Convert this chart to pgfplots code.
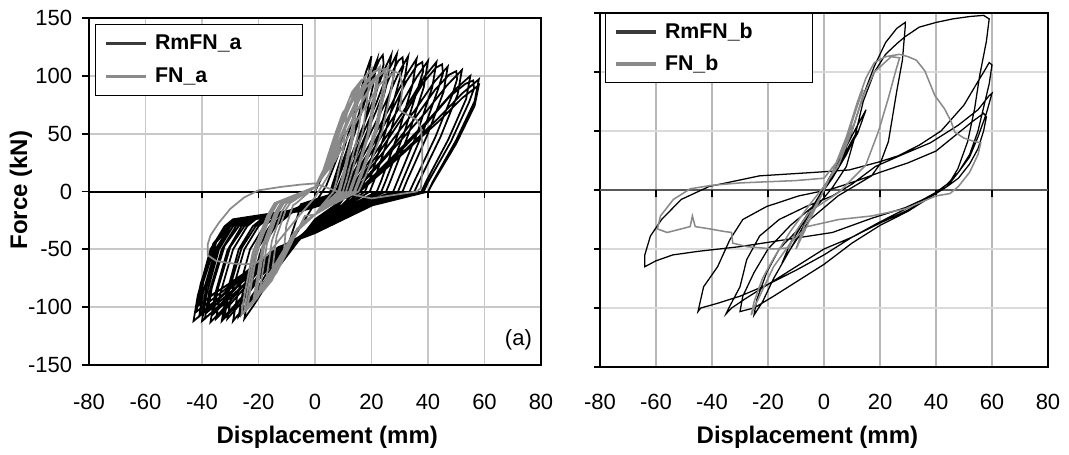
\documentclass[border=0pt]{standalone}
\usepackage{fontspec}
\setmainfont{Liberation Sans}
\usepackage{pgfplots}
\pgfplotsset{compat=1.18}
\definecolor{grayline}{HTML}{8A8A8A}
\definecolor{gridc}{HTML}{C8C8C8}
\definecolor{gridv}{HTML}{B8B8B8}
\definecolor{gridh}{HTML}{DADADA}
\definecolor{legdark}{HTML}{3A3A3A}
\newcommand{\tfont}{\fontsize{16.5}{20}\selectfont}
\newcommand{\lfont}{\fontsize{18}{21}\selectfont\bfseries}
\pgfplotsset{
  panel/.style={
    scale only axis,
    xmin=-80,xmax=80,ymin=-150,ymax=150,
    xtick={-80,-60,...,80}, ytick={-150,-100,...,150},
    grid=major,
    tick label style={font=\tfont},
    /pgf/number format/assume math mode=true,
    xtick style={draw=none},
    ytick pos=left,
    tick align=outside,
    xticklabel style={anchor=center, yshift=-22pt},
    xlabel={Displacement (mm)},
    xlabel style={font=\lfont, anchor=center},
    legend image code/.code={\draw[#1,line width=2.4pt] (0pt,0pt) -- (30pt,0pt);},
    legend cell align=left,
  }
}
\begin{document}
\begin{tikzpicture}
\useasboundingbox (0,0) rectangle (801.75pt,340.5pt);
% ---------------- left panel
\begin{axis}[panel,
  at={(66.75pt,66.75pt)}, anchor=south west,
  width=339pt, height=260.25pt,
  axis line style={black,line width=1.5pt},
  grid style={gridc,line width=1.4pt},
  ytick style={black,line width=1.3pt},
  major tick length=5.5pt,
  yticklabel style={anchor=east, inner sep=0pt, xshift=-7pt},
  xlabel style={at={(axis description cs:0.527,-0.2075)}},
  ylabel={Force (kN)},
  ylabel style={font=\lfont, at={(axis description cs:-0.1504,0.504)}, anchor=center},
  legend style={at={(axis description cs:0.0133,0.984)}, anchor=north west,
    draw=black, line width=0.8pt, fill=white, font=\fontsize{16}{19}\selectfont\bfseries,
    inner xsep=6.75pt, inner ysep=1.9pt, row sep=0pt, column sep=5.5pt,
    nodes={inner sep=0pt, minimum height=24.75pt}},
  clip=false,
]
\addplot[black,line width=1.5pt,forget plot] coordinates {(-80,0) (80,0)};
\addplot[black,line width=1.3pt,ycomb,forget plot] coordinates {(-60,-5.5)(-40,-5.5)(-20,-5.5)(0,-5.5)(20,-5.5)(40,-5.5)(60,-5.5)};
\addplot[black,line width=1.3pt,legend image post style={legdark}] coordinates {
(0,0)(5,25)(10,50)(8,30)(4,5)(0,-10)(-5,-30)(-10,-50)(-8,-35)(-6,-20)
(-5,-11)(5,-3)(10,35)(15,76)(18,103)(20,117)(18.5,94)(14,53)(10,9)(8.6,0)(7,-12)(0,-24)(-7.5,-48)(-15,-72)(-21.3,-97)(-25,-110)(-23.5,-88)(-19,-50)(-14,-30)(-11,-24)
(-5,-12)(5.5,-3)(11,34)(16.5,74)(19.8,100)(22,114)(20.5,91)(16.7,51)(11.8,9)(10.3,0)(7.7,-12)(0,-25)(-8.1,-48)(-16.2,-72)(-23,-95)(-27,-108)(-25.5,-86)(-21,-49)(-16,-30)(-13,-24)
(-5,-13)(6,-3)(12,35)(16.8,71)(20.4,100)(22.8,114)(24,118)(24.3,110)(22.5,94)(18.6,53)(13.4,9)(11.9,0)(8.4,-12)(0,-27)(-7.8,-48)(-15.6,-72)(-22.1,-93)(-26,-106)(-24.5,-85)(-20,-48)(-15,-30)(-12,-24)
(-5,-12)(6.8,-3)(13.5,35)(20.3,77)(24.3,104)(27,118)(25.5,94)(21.3,53)(15.9,9)(14.4,0)(9.5,-12)(0,-26)(-8.7,-48)(-17.4,-72)(-24.7,-99)(-29,-112)(-27.5,-90)(-23,-50)(-18,-30)(-15,-24)
(-5,-13)(7.3,-3)(14.5,36)(21.8,77)(26.1,105)(29,119)(27.5,95)(23.2,54)(17.6,10)(16.1,0)(10.2,-12)(0,-27)(-9.3,-48)(-18.6,-72)(-26.4,-97)(-31,-110)(-29.5,-88)(-25,-50)(-20,-30)(-17,-24)
(-5,-14)(7.8,-3)(15.5,35)(21.7,70)(26.4,99)(29.5,113)(31,116)(31.3,108)(29.5,93)(25,52)(19.2,9)(17.7,0)(10.9,-12)(0,-28)(-9.6,-48)(-19.2,-72)(-27.2,-95)(-32,-108)(-30.5,-86)(-26,-49)(-21,-30)(-18,-24)
(-5,-13)(8.3,-3)(16.5,35)(24.8,76)(29.7,103)(33,117)(31.5,94)(26.9,53)(20.9,9)(19.4,0)(11.6,-12)(0,-28)(-9.9,-48)(-19.8,-72)(-28,-99)(-33,-112)(-31.5,-90)(-27,-50)(-22,-30)(-19,-24)
(-5,-14)(9,-3)(18,35)(27,75)(32.4,101)(36,115)(34.5,92)(29.7,52)(23.4,9)(21.9,0)(12.6,-12)(0,-29)(-10.5,-48)(-21,-72)(-29.8,-97)(-35,-110)(-33.5,-88)(-29,-50)(-24,-30)(-21,-24)
(-5,-15)(9.5,-3)(19,34)(26.6,67)(32.3,95)(36.1,109)(38,112)(38.3,104)(36.5,90)(31.5,50)(25,9)(23.5,0)(13.3,-12)(0,-30)(-10.8,-48)(-21.6,-72)(-30.6,-93)(-36,-106)(-34.5,-85)(-30,-48)(-25,-30)(-22,-24)
(-5,-14)(10,-3)(20,34)(30,73)(36,99)(40,113)(38.5,90)(33.3,51)(26.7,9)(25.2,0)(14,-12)(0,-30)(-11.1,-48)(-22.2,-72)(-31.5,-99)(-37,-113)(-35.5,-90)(-31,-51)(-26,-30)(-23,-24)
(-5,-15)(10.8,-3)(21.5,34)(32.3,73)(38.7,99)(43,112)(41.5,90)(36.1,50)(29.2,9)(27.7,0)(15,-12)(0,-31)(-11.7,-48)(-23.4,-72)(-33.2,-97)(-39,-110)(-37.5,-88)(-33,-50)(-28,-30)(-25,-24)
(-5,-16)(11.3,-3)(22.5,33)(31.5,66)(38.3,94)(42.8,107)(45,110)(45.3,102)(43.5,88)(38,50)(30.9,9)(29.4,0)(15.8,-12)(0,-32)(-11.4,-48)(-22.8,-72)(-32.3,-92)(-38,-104)(-36.5,-83)(-32,-47)(-27,-30)(-24,-24)
(-5,-15)(11.8,-3)(23.5,32)(35.3,70)(42.3,95)(47,108)(45.5,86)(39.8,49)(32.5,9)(31,0)(16.5,-12)(0,-32)(-12,-48)(-24,-72)(-34,-99)(-40,-112)(-38.5,-90)(-34,-50)(-29,-30)(-26,-24)
(-5,-16)(12.5,-3)(25,31)(35,62)(42.5,88)(47.5,101)(50,104)(50.3,97)(48.5,83)(42.6,47)(35,8)(33.5,0)(17.5,-12)(0,-33)(-12,-48)(-24,-72)(-34,-92)(-40,-104)(-38.5,-83)(-34,-47)(-29,-30)(-26,-24)
(-5,-16)(13,-3)(26,32)(39,68)(46.8,92)(52,105)(50.5,84)(44.4,47)(36.7,8)(35.2,0)(18.2,-12)(0,-33)(-12.3,-48)(-24.6,-72)(-34.9,-95)(-41,-108)(-39.5,-86)(-35,-49)(-30,-30)(-27,-24)
(-5,-16)(13.8,-3)(27.5,30)(41.3,65)(49.5,88)(55,100)(53.5,80)(47.2,45)(39.2,8)(37.7,0)(19.3,-12)(0,-34)(-12.6,-48)(-25.2,-72)(-35.7,-92)(-42,-104)(-40.5,-83)(-36,-47)(-31,-30)(-28,-24)
(-5,-17)(14,-3)(28,29)(39.2,58)(47.6,82)(53.2,93)(56,96)(56.3,89)(54.5,77)(48.1,43)(40,8)(38.5,0)(19.6,-12)(0,-35)(-12.3,-48)(-24.6,-70)(-34.9,-87)(-41,-98)(-39.5,-78)(-35,-44)(-30,-30)(-27,-24)
(-5,-17)(14.5,-3)(29,29)(43.5,63)(52.2,85)(58,97)(56.5,78)(49.9,44)(41.6,8)(40.1,0)(20.3,-12)(0,-35)(-12.6,-48)(-25.2,-72)(-35.7,-88)(-42,-100)(-40.5,-80)(-36,-45)(-31,-30)(-28,-24)
(-5,-17)(14.5,-3)(29,28)(43.5,60)(52.2,81)(58,92)(56.5,74)(49.9,41)(41.6,7)(40.1,0)(20.3,-12)(0,-36)(-12.9,-48)(-25.8,-72)(-36.6,-99)(-43,-112)(-41.5,-90)(-37,-50)(-32,-30)(-29,-24)(-5,-15)(0,-8)
};
\addlegendentry{\makebox[104pt][l]{RmFN\_a}}
\addplot[grayline,line width=1.3pt] coordinates {
(0,0)(3,19)(6.6,46)(9.8,68)(12,75)(11,64)(10.2,38)(7.8,11)(6.6,0)(2.4,-12)(0,-20)(-3.6,-21)(-7.2,-39)(-10.2,-54)(-12,-60)(-11,-51)(-10.2,-30)(-7.8,-12)(-6.6,-10)
(0,4)(3.8,23)(8.3,56)(12.3,81)(15,90)(14,77)(12.8,45)(9.8,14)(8.3,0)(3,-12)(0,-20)(-5.4,-30)(-10.8,-55)(-15.3,-77)(-18,-85)(-17,-72)(-15.3,-43)(-11.7,-17)(-9.9,-10)
(0,4)(4,24)(8.8,59)(13.1,86)(16,95)(15,81)(13.6,48)(10.4,14)(8.8,0)(3.2,-12)(0,-20)(-4.8,-27)(-9.6,-51)(-13.6,-70)(-16,-78)(-15,-66)(-13.6,-39)(-10.4,-16)(-8.8,-10)
(0,4)(4.5,25)(9.9,62)(14.8,90)(18,100)(17,85)(15.3,50)(11.7,15)(9.9,0)(3.6,-12)(0,-20)(-6,-32)(-12,-59)(-17,-81)(-20,-90)(-19,-77)(-17,-45)(-13,-18)(-11,-10)
(0,4)(5.5,25)(12.1,62)(18,90)(22,100)(21,85)(18.7,50)(14.3,15)(12.1,0)(4.4,-12)(0,-20)(-6.3,-32)(-12.6,-60)(-17.9,-83)(-21,-92)(-20,-78)(-17.9,-46)(-13.7,-18)(-11.6,-10)
(0,4)(5,27)(11,66)(16.4,95)(20,106)(19,90)(17,53)(13,16)(11,0)(4,-12)(0,-20)(-6.6,-34)(-13.2,-62)(-18.7,-86)(-22,-96)(-21,-82)(-18.7,-48)(-14.3,-19)(-12.1,-10)
(0,4)(5.8,27)(12.7,67)(18.9,97)(23,108)(22,92)(19.6,54)(15,16)(12.7,0)(4.6,-12)(0,-20)(-7.2,-35)(-14.4,-65)(-20.4,-90)(-24,-100)(-23,-85)(-20.4,-50)(-15.6,-20)(-13.2,-10)
(0,4)(6.3,26)(13.8,65)(20.5,95)(25,105)(24,89)(21.3,53)(16.3,16)(13.8,0)(5,-12)(0,-20)(-7.5,-36)(-15,-68)(-21.3,-94)(-25,-104)(-24,-88)(-21.3,-52)(-16.3,-21)(-13.8,-10)
(0,4)(6.5,27)(14.3,67)(21.3,97)(26,108)(25,92)(22.1,54)(16.9,16)(14.3,0)(5.2,-12)(0,-20)(-7.2,-36)(-14.4,-66)(-20.4,-92)(-24,-102)(-23,-87)(-20.4,-51)(-15.6,-20)(-13.2,-10)
(0,4)(7,26)(15.4,64)(23,93)(28,103)(27,88)(23.8,52)(18.2,15)(15.4,0)(5.6,-12)(0,-20)(-7.8,-37)(-15.6,-69)(-22.1,-95)(-26,-106)(-25,-90)(-22.1,-53)(-16.9,-21)(-14.3,-10)
(0,4)(6,30)(12,65)(17,92)(21,104)(25,106)(30,102)(31,90)(30,70)(33,66)(36,62)(37.5,55)(38,40)(38,20)(37.5,3)(36,0)(20,-6)(8,0)(0,7)(-5,6)(-12,4)(-20,1)(-25,-5)(-30,-15)(-34,-27)(-37,-38)(-38,-46)(-38,-55)(-35,-60)(-30,-62)(-25,-63)(-21,-62)(-17,-55)(-12,-40)(-6,-22)(0,-5)(5,15)(9,40)
};
\addlegendentry{\makebox[104pt][l]{FN\_a}}
\node[font=\tfont] at (axis cs:72,-128) {(a)};
\end{axis}
% ---------------- right panel
\begin{axis}[panel,
  at={(450pt,65.25pt)}, anchor=south west,
  width=336pt, height=265.5pt,
  axis line style={black,line width=1.1pt},
  major x grid style={gridv,line width=0.9pt},
  major y grid style={gridh,line width=1.2pt},
  ytick style={black,line width=1pt},
  major tick length=4.5pt,
  yticklabels={},
  xlabel style={at={(axis description cs:0.463,-0.198)}},
  legend style={at={(axis description cs:0.011,1)}, anchor=north west,
    draw=black, line width=0.8pt, fill=white, font=\fontsize{16}{19}\selectfont\bfseries,
    inner xsep=6.75pt, inner ysep=1.9pt, row sep=0pt, column sep=5.5pt,
    nodes={inner sep=0pt, minimum height=24pt}},
  clip=false,
]
\addplot[black!65,line width=1.2pt,forget plot] coordinates {(-80,0) (80,0)};
\addplot[black,line width=1pt,ycomb,forget plot] coordinates {(-60,-6)(-40,-6)(-20,-6)(0,-6)(20,-6)(40,-6)(60,-6)};
\addplot[black,line width=0.95pt,legend image post style={legdark}] coordinates {
(0,0)(5,20)(10,42)(12,50)(8,30)(3,10)(0,0)(-5,-18)(-10,-38)(-12,-45)(-8,-28)(-3,-10)(0,2)(6,28)(12,55)(15,68)(12,48)(5,20)(0,3)(-6,-25)(-12,-50)(-15,-62)(-12,-45)(-5,-18)(0,0)
(3,10)(7,30)(10,50)(14,80)(18,105)(22,125)(26,137)(29,142)(29,138)(28,110)(26,84)(23,41)(20,22)(17,12)(5,-5)(-5,-25)(-12,-50)(-18,-75)(-22,-95)(-25,-106)(-24,-93)(-20.5,-70)(-16,-50)(-9,-33)(-3,-15)(3,2)(8,20)
(11,45)(14,75)(18,100)(22,115)(26,124)(29,130)(34,138)(40,142)(46,145)(52,147)(57,148)(59,145)(58,126)(55.6,97)(53.8,69)(51.3,41)(47.8,18)(44,3)(40,-3)(29,-15)(17,-24)(3,-36)(-13.5,-42)(-30,-48)(-45,-52)(-54,-55)(-60,-60)(-64,-65)(-64,-55)(-62,-39)(-58,-25)(-51,-8)(-41,3)(-23,12)(-3,15)(9,17)(20,24)
(26.5,29)(34,38)(41.8,50)(50,72)(55,92)(57.3,101)(59,108)(60,106)(59,90)(57,70)(55,50)(52,30)(48,15)(44,3)(40,-3)(30,-17)(20,-28)(10,-40)(0,-50)(-10,-65)(-20,-80)(-28,-92)(-33,-100)(-35,-105)(-34,-100)(-30,-82)(-27.6,-59)(-23,-39)(-16,-25)(-6.4,-14)(3,-5)(10,5)
(18.4,20)(28,30)(38,40)(48,55)(55,68)(59,80)(60,82)(58,65)(55,45)(52,28)(48,15)(44,5)(40,-2)(30,-15)(20,-27)(10,-40)(0,-55)(-10,-68)(-20,-80)(-30,-90)(-38,-96)(-44,-100)(-45,-103)(-43,-82)(-38,-65)(-33.6,-42)(-29,-25)(-20.5,-14)(-9,-5)(3,1)(12,8)
(20,15)(30,23)(40,33)(47.8,48)(53,58)(57,65)(58,62)(57,50)(55,35)(52,22)(48,10)(44,3)(40,-3)(30,-18)(20,-30)(10,-45)(0,-63)(-10,-78)(-18,-90)(-25,-100)(-30,-103)(-29,-90)(-25,-70)(-20,-50)(-12,-30)(-3,-12)(0,0)
};
\addlegendentry{\makebox[104pt][l]{RmFN\_b}}
\addplot[grayline,line width=1.15pt] coordinates {
(0,0)(5,25)(10,55)(7,35)(0,0)(-5,-25)(-10,-50)(-7,-30)(0,0)
(3,15)(8,45)(12,75)(15,95)(18,108)(22,113)(27,115)(30,113)(33,110)(36,101)(39.6,80)(43,69)(45.4,58)(46.7,49)(50,44)(53.8,41)(56,40)(55,30)(52,15)(48,3)(45,-3)(40,-5)(29,-16)(17,-22)(5.3,-25)(-6,-31)(-12,-45)(-18,-65)(-22,-85)(-25,-100)(-26,-106)(-25,-95)(-22,-75)(-18,-58)(-12,-35)(-5,-12)(0,3)(5,20)(10,50)(14,80)(18,100)(24,113)(27,112)
(25.5,100)(23,78)(19.5,50)(14.9,21)(5.3,-2)(-5,-18)(-10,-35)(-12.4,-49)(-18,-50)(-27.6,-48)(-32.6,-45)(-33,-36)(-36,-35)(-40.7,-33)(-46,-31)(-47,-22)(-47.8,-31)(-56,-36)(-59.5,-33)(-58.4,-22)(-53.8,-8)(-47.8,1)(-40,4)(-30,6)(-20,7)(-10,8)(0,10)(5,25)(9,50)(12,72)(14,85)
};
\addlegendentry{\makebox[104pt][l]{FN\_b}}
\end{axis}
\end{tikzpicture}
\end{document}
